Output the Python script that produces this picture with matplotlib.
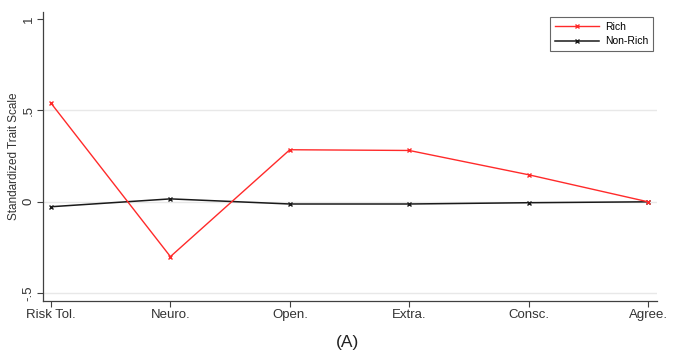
import matplotlib
matplotlib.use("Agg")
import matplotlib.pyplot as plt

plt.rcParams["font.family"] = ["Liberation Sans", "DejaVu Sans"]

# Дані з графіка
traits = ["Risk Tol.", "Neuro.", "Open.", "Extra.", "Consc.", "Agree."]
rich = [0.54, -0.30, 0.285, 0.281, 0.148, 0.0]
non_rich = [-0.027, 0.016, -0.012, -0.012, -0.005, 0.0]
y_ticks = [-0.5, 0, 0.5, 1]
y_tick_labels = ["-.5", "0", ".5", "1"]

fig = plt.figure(figsize=(6.95, 3.61), dpi=100)
ax = fig.add_axes([43 / 695, 1 - 301 / 361, (657 - 43) / 695, (301 - 12) / 361])

x = range(len(traits))
for yg in [-0.5, 0, 0.5]:
    ax.axhline(yg, color="#e8e8e8", lw=1, zorder=0)

ax.plot(x, rich, color="#ff2a2a", lw=1, marker="x", ms=3.5, mew=1, label="Rich", zorder=3)
ax.plot(x, non_rich, color="#1a1a1a", lw=1.1, marker="x", ms=3.5, mew=1, label="Non-Rich", zorder=2)

ax.set_xlim(-0.067, 5.075)
ax.set_ylim(-0.543, 1.039)
ax.set_xticks(list(x))
ax.set_xticklabels(traits, fontsize=9.5, color="#333333")
ax.set_yticks(y_ticks)
ax.set_yticklabels(y_tick_labels, fontsize=9.5, rotation=90, va="center", color="#333333")
ax.set_ylabel("Standardized Trait Scale", fontsize=8.5, labelpad=2, color="#333333")

for side in ["top", "right"]:
    ax.spines[side].set_visible(False)
for side in ["left", "bottom"]:
    ax.spines[side].set_color("#404040")
    ax.spines[side].set_linewidth(0.9)
ax.tick_params(length=4, width=0.8, color="#404040", pad=2)

leg = ax.legend(loc="upper right", bbox_to_anchor=(653 / 695, 1 - 17 / 361),
                bbox_transform=fig.transFigure, fontsize=7.5, frameon=True,
                fancybox=False, handlelength=4.2, handletextpad=0.6,
                borderpad=0.45, labelspacing=0.45, borderaxespad=0)
leg.get_frame().set_edgecolor("#404040")
leg.get_frame().set_linewidth(0.8)

fig.text(0.5, 1 - 343 / 361, "(A)", ha="center", va="center", fontsize=12.5, color="#222222")

fig.savefig("out.png", dpi=100)
